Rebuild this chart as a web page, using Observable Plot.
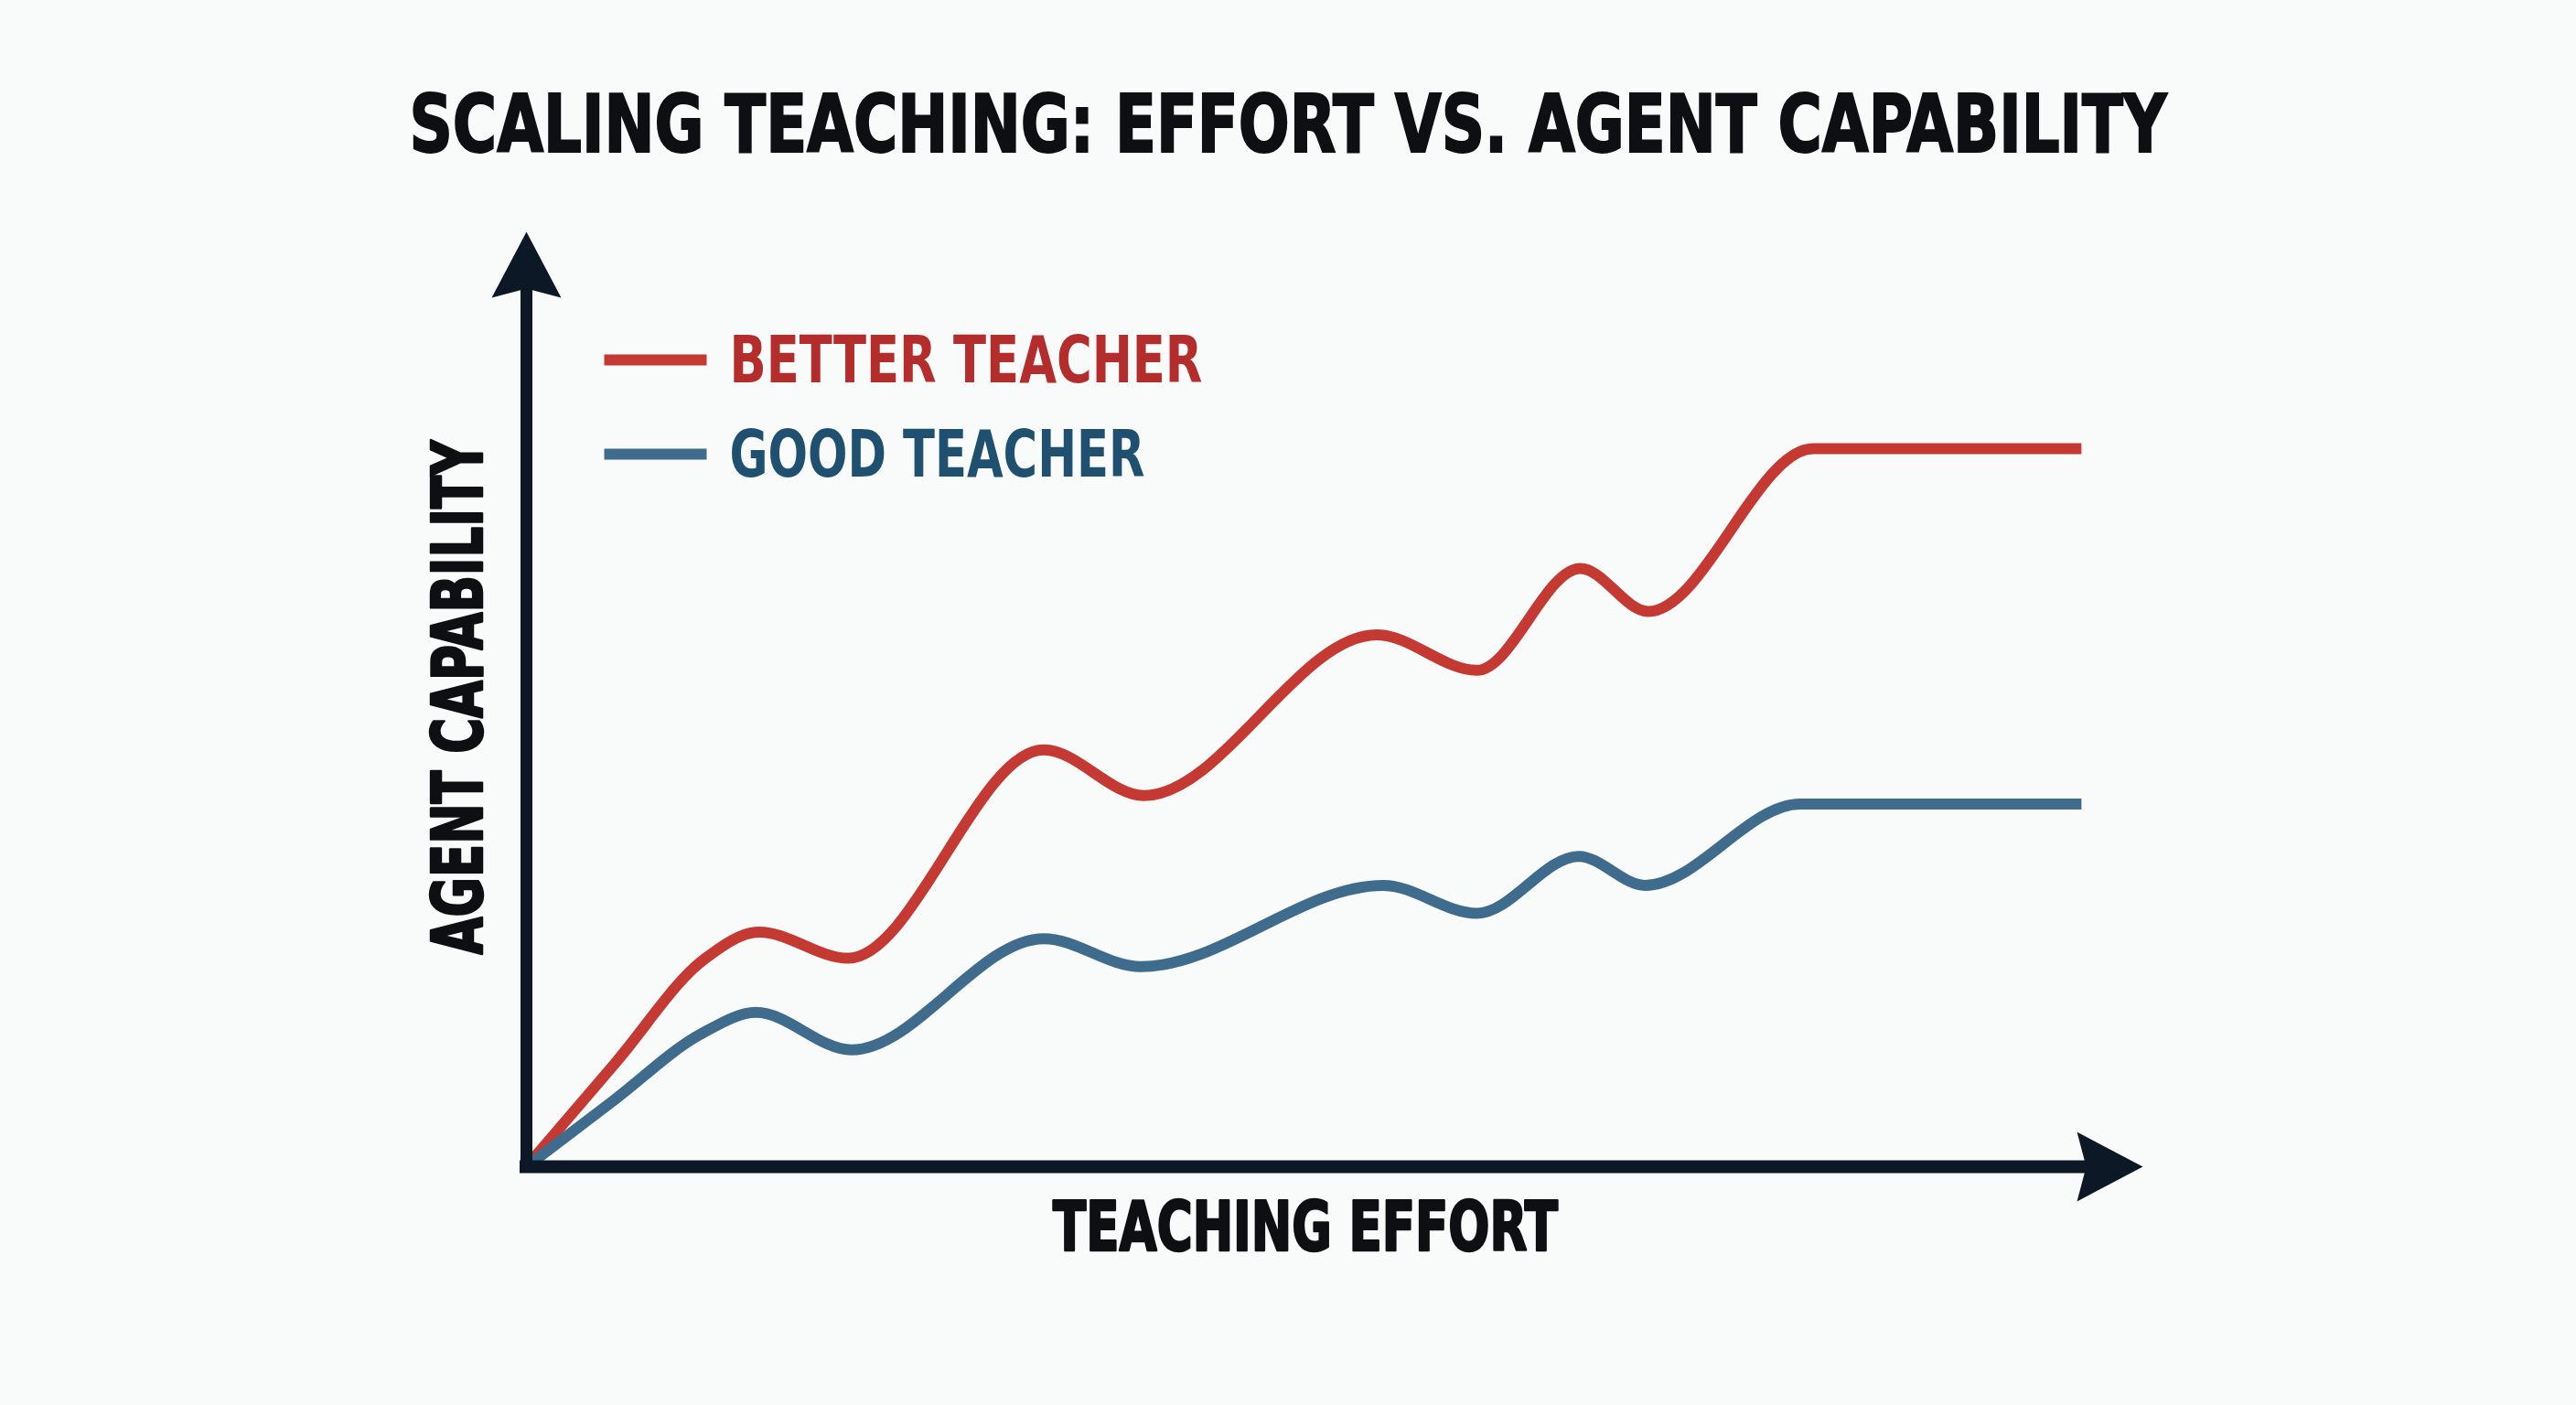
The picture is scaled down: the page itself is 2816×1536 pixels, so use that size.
<!DOCTYPE html>
<html>
<head>
<meta charset="utf-8">
<script src="https://cdn.jsdelivr.net/npm/d3@7"></script>
<script src="https://cdn.jsdelivr.net/npm/@observablehq/plot@0.6"></script>
<style>
  html, body { margin: 0; padding: 0; background: #f9fbfb; }
  body { width: 2816px; height: 1536px; overflow: hidden; }
  #title { height: 220px; position: relative; }
  #title span {
    position: absolute; left: 50%; top: 92px;
    transform-origin: center center;
    font-family: "DejaVu Sans Condensed", "DejaVu Sans", sans-serif;
    font-stretch: condensed; font-weight: 700; font-size: 88px; line-height: 1;
    color: #0d0f12; white-space: nowrap;
    -webkit-text-stroke: 2px #0d0f12;
  }
  svg { display: block; }
</style>
</head>
<body>
<div id="title"><span>SCALING TEACHING: EFFORT VS. AGENT CAPABILITY</span></div>
<div id="chart"></div>
<script>
// ---- data ----
const seriesNames = ["BETTER TEACHER", "GOOD TEACHER"];
const seriesColors = ["#c43a33", "#3f6c8d"];
const legendTextColors = ["#b32d2c", "#20506f"];

const betterEffort = [0, 5.5, 11.0, 14.4, 19.9, 32.0, 38.2, 52.6, 58.8, 65.2, 69.4, 79.6, 96.2];
const betterCapability = [0, 11.1, 22.2, 25.1, 22.3, 44.6, 39.7, 56.9, 53.1, 64.0, 59.4, 76.8, 76.8];

const goodEffort = [0, 5.4, 10.9, 14.2, 20.1, 32.0, 38.0, 53.0, 58.8, 65.1, 69.2, 78.8, 96.2];
const goodCapability = [0, 7.1, 14.3, 16.5, 12.5, 24.4, 21.4, 30.1, 27.1, 33.2, 30.1, 38.8, 38.8];

const xLabel = "TEACHING EFFORT";
const yLabel = "AGENT CAPABILITY";

// ---- build table ----
const rows = [
  ...betterEffort.map((e, i) => ({series: seriesNames[0], effort: e, capability: betterCapability[i]})),
  ...goodEffort.map((e, i) => ({series: seriesNames[1], effort: e, capability: goodCapability[i]}))
];

const axisColor = "#0c1826";
const axisMax = 100;
const xAxisEnd = 96.6;   // where the x axis shaft meets its arrowhead
const yAxisEnd = 94;     // where the y axis shaft meets its arrowhead

// arrowhead symbol pointing right with its tip at the origin
const arrowHead = {
  draw(ctx, size) {
    const L = 72, W = 76;
    ctx.moveTo(0, 0);
    ctx.lineTo(-L, -W / 2);
    ctx.lineTo(-L * 0.86, 0);
    ctx.lineTo(-L, W / 2);
    ctx.closePath();
  }
};
const swatch = {
  draw(ctx, size) {
    ctx.moveTo(-56, -6);
    ctx.lineTo(56, -6);
    ctx.lineTo(56, 6);
    ctx.lineTo(-56, 6);
    ctx.closePath();
  }
};

const labelFont = '"DejaVu Sans Condensed", "DejaVu Sans", sans-serif';

const legendMarks = seriesNames.flatMap((name, i) => [
  Plot.dot([name], {frameAnchor: "top-left", dx: 141, dy: 140 + i * 103, symbol: swatch, r: 1, fill: seriesColors[i], stroke: "none"}),
  Plot.text([name], {frameAnchor: "top-left", dx: 222, dy: 142 + i * 103, text: d => d, textAnchor: "start", lineAnchor: "middle",
    fill: legendTextColors[i], fontSize: 71, fontWeight: 700, fontFamily: labelFont})
]);

const chart = Plot.plot({
  width: 2816,
  height: 1316,
  marginLeft: 575,
  marginRight: 474,
  marginTop: 33,
  marginBottom: 261,
  style: {background: "transparent", overflow: "visible"},
  x: {domain: [0, axisMax], axis: null},
  y: {domain: [0, axisMax], axis: null},
  color: {domain: seriesNames, range: seriesColors},
  marks: [
    Plot.line(rows, {x: "effort", y: "capability", z: "series", stroke: "series",
      strokeWidth: 12, curve: "monotone-x", strokeLinejoin: "round", strokeLinecap: "butt"}),
    Plot.ruleY([0], {x1: 0, x2: xAxisEnd, stroke: axisColor, strokeWidth: 14, strokeLinecap: "square"}),
    Plot.ruleX([0], {y1: 0, y2: yAxisEnd, stroke: axisColor, strokeWidth: 13, strokeLinecap: "square"}),
    Plot.dot([[axisMax, 0]], {x: d => d[0], y: d => d[1], symbol: arrowHead, r: 1, fill: axisColor, stroke: "none"}),
    Plot.dot([[0, axisMax]], {x: d => d[0], y: d => d[1], symbol: arrowHead, r: 1, rotate: -90, fill: axisColor, stroke: "none"}),
    ...legendMarks,
    Plot.text([xLabel], {frameAnchor: "bottom", dx: -32, dy: 68, text: d => d, textAnchor: "middle", lineAnchor: "middle",
      fontSize: 74, fontWeight: 700, fontFamily: labelFont, fill: "#0d0f12", stroke: "#0d0f12", strokeWidth: 2.5}),
    Plot.text([yLabel], {frameAnchor: "left", dx: -73, dy: -2, rotate: -90, text: d => d, textAnchor: "middle", lineAnchor: "middle",
      fontSize: 76, fontWeight: 700, fontFamily: labelFont, fill: "#0d0f12", stroke: "#0d0f12", strokeWidth: 2.5})
  ]
});
document.getElementById("chart").append(chart);

// condense the labels to the reference widths
const fitWidths = new Map([[xLabel, 552], [yLabel, 562], [seriesNames[0], 517], [seriesNames[1], 454]]);
d3.select(chart).selectAll("text").each(function () {
  const s = this.textContent;
  if (fitWidths.has(s)) {
    this.setAttribute("textLength", fitWidths.get(s));
    this.setAttribute("lengthAdjust", "spacingAndGlyphs");
  }
});

// fit title width to the reference span
const t = document.querySelector("#title span");
const w = t.getBoundingClientRect().width;
const targetW = 1921;
t.style.transform = `translateX(-50%) scaleX(${targetW / w})`;
</script>
</body>
</html>
